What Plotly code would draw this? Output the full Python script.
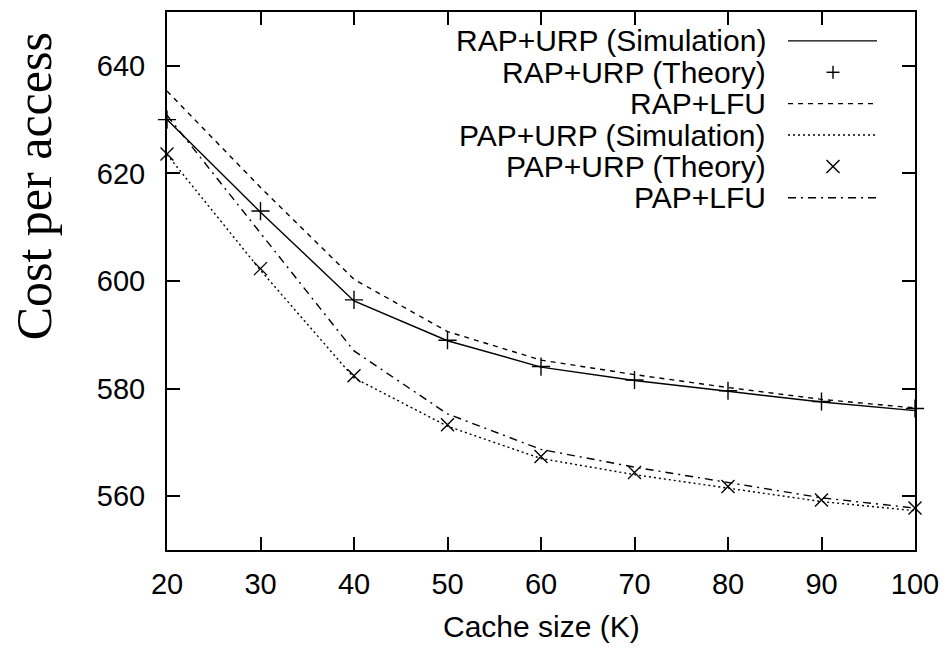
import plotly.graph_objects as go

# ---------------- data ----------------
cache_size = [20, 30, 40, 50, 60, 70, 80, 90, 100]
rap_urp_sim = [630.0, 612.8, 596.3, 588.9, 584.0, 581.5, 579.5, 577.5, 575.9]
rap_urp_theory = [630.0, 613.0, 596.5, 589.0, 584.1, 581.6, 579.6, 577.6, 576.3]
rap_lfu = [635.3, 617.4, 600.3, 590.6, 585.3, 582.6, 580.2, 578.0, 576.4]
pap_urp_sim = [623.5, 602.0, 582.0, 573.0, 567.0, 564.0, 561.5, 559.0, 557.3]
pap_urp_theory = [623.6, 602.3, 582.4, 573.3, 567.4, 564.4, 561.8, 559.3, 557.8]
pap_lfu = [630.8, 608.8, 587.0, 575.3, 568.7, 565.4, 562.6, 559.7, 557.8]

x_ticks = [20, 30, 40, 50, 60, 70, 80, 90, 100]
y_ticks = [560, 580, 600, 620, 640]

series_names = [
    "RAP+URP (Simulation)",
    "RAP+URP (Theory)",
    "RAP+LFU",
    "PAP+URP (Simulation)",
    "PAP+URP (Theory)",
    "PAP+LFU",
]

# ---------------- styling ----------------
W, H = 949, 649
# plot box in screen pixels
L, R, T, B = 167, 915, 10, 550
PW, PH = R - L, B - T
FONT = "Liberation Sans, Arial, sans-serif"
BLACK = "#000000"

DASH = "5px,5px"
DOT = "2px,3px"
DASHDOT = "8px,5px,2px,5px"
LW = 1.4

fig = go.Figure()

fig.add_trace(go.Scatter(x=cache_size, y=rap_urp_sim, mode="lines",
                         line=dict(color=BLACK, width=LW), name=series_names[0],
                         showlegend=False))
fig.add_trace(go.Scatter(x=cache_size, y=rap_urp_theory, mode="markers",
                         marker=dict(symbol="cross-thin", size=13,
                                     line=dict(color=BLACK, width=LW)),
                         name=series_names[1], showlegend=False, cliponaxis=False))
fig.add_trace(go.Scatter(x=cache_size, y=rap_lfu, mode="lines",
                         line=dict(color=BLACK, width=LW, dash=DASH),
                         name=series_names[2], showlegend=False))
fig.add_trace(go.Scatter(x=cache_size, y=pap_urp_sim, mode="lines",
                         line=dict(color=BLACK, width=LW, dash=DOT),
                         name=series_names[3], showlegend=False))
fig.add_trace(go.Scatter(x=cache_size, y=pap_urp_theory, mode="markers",
                         marker=dict(symbol="x-thin", size=13,
                                     line=dict(color=BLACK, width=LW)),
                         name=series_names[4], showlegend=False, cliponaxis=False))
fig.add_trace(go.Scatter(x=cache_size, y=pap_lfu, mode="lines",
                         line=dict(color=BLACK, width=LW, dash=DASHDOT),
                         name=series_names[5], showlegend=False))


def px(xs):
    """pixel x -> paper"""
    return (xs - L) / PW


def py(ys):
    """pixel y -> paper"""
    return (B - ys) / PH


# ---------------- custom gnuplot-style key ----------------
row_y = [39, 70.5, 102, 133.5, 165, 196.5]
text_right = 768
samp_x0, samp_x1 = 788, 877
samp_c = 833
shapes = []
annotations = []
styles = ["solid", "plus", DASH, DOT, "cross", DASHDOT]
for name, yy, st in zip(series_names, row_y, styles):
    annotations.append(dict(text=name, xref="paper", yref="paper",
                            x=px(text_right), y=py(yy), xanchor="right",
                            yanchor="middle", showarrow=False,
                            font=dict(family=FONT, size=30, color=BLACK)))
    h = 6.5
    if st == "plus":
        shapes.append(dict(type="line", xref="paper", yref="paper",
                           x0=px(samp_c - h), x1=px(samp_c + h), y0=py(yy), y1=py(yy),
                           line=dict(color=BLACK, width=LW)))
        shapes.append(dict(type="line", xref="paper", yref="paper",
                           x0=px(samp_c), x1=px(samp_c), y0=py(yy - h), y1=py(yy + h),
                           line=dict(color=BLACK, width=LW)))
    elif st == "cross":
        shapes.append(dict(type="line", xref="paper", yref="paper",
                           x0=px(samp_c - h), x1=px(samp_c + h), y0=py(yy - h), y1=py(yy + h),
                           line=dict(color=BLACK, width=LW)))
        shapes.append(dict(type="line", xref="paper", yref="paper",
                           x0=px(samp_c - h), x1=px(samp_c + h), y0=py(yy + h), y1=py(yy - h),
                           line=dict(color=BLACK, width=LW)))
    else:
        shapes.append(dict(type="line", xref="paper", yref="paper",
                           x0=px(samp_x0), x1=px(samp_x1), y0=py(yy), y1=py(yy),
                           line=dict(color=BLACK, width=LW, dash=st)))

# axis titles
annotations.append(dict(text="Cache size (K)", xref="paper", yref="paper",
                        x=0.5, y=py(627), xanchor="center", yanchor="middle",
                        showarrow=False, font=dict(family=FONT, size=30, color=BLACK)))
annotations.append(dict(text="Cost per access", xref="paper", yref="paper",
                        x=px(34), y=py(185), xanchor="center", yanchor="middle",
                        textangle=-90, showarrow=False,
                        font=dict(family="Liberation Serif, Times New Roman, serif",
                                  size=50, color=BLACK)))

axis_common = dict(
    showline=True, linecolor=BLACK, linewidth=2, mirror="ticks",
    ticks="inside", ticklen=13, tickwidth=2, tickcolor=BLACK,
    showgrid=False, zeroline=False,
    tickfont=dict(family=FONT, size=29, color=BLACK),
)

fig.update_layout(
    width=W, height=H,
    margin=dict(l=L, r=W - R, t=T, b=H - B, pad=0),
    paper_bgcolor="white", plot_bgcolor="white",
    showlegend=False,
    xaxis=dict(range=[20, 100], tickvals=x_ticks, ticklabelstandoff=7, **axis_common),
    yaxis=dict(range=[550, 650], tickvals=y_ticks, ticklabelstandoff=14, **axis_common),
    shapes=shapes,
    annotations=annotations,
)

# remove the browser's default 8px body margin so the figure fills the window
fig.write_html("out.html", config={"displayModeBar": False},
               post_script="document.body.style.margin='0px';")
